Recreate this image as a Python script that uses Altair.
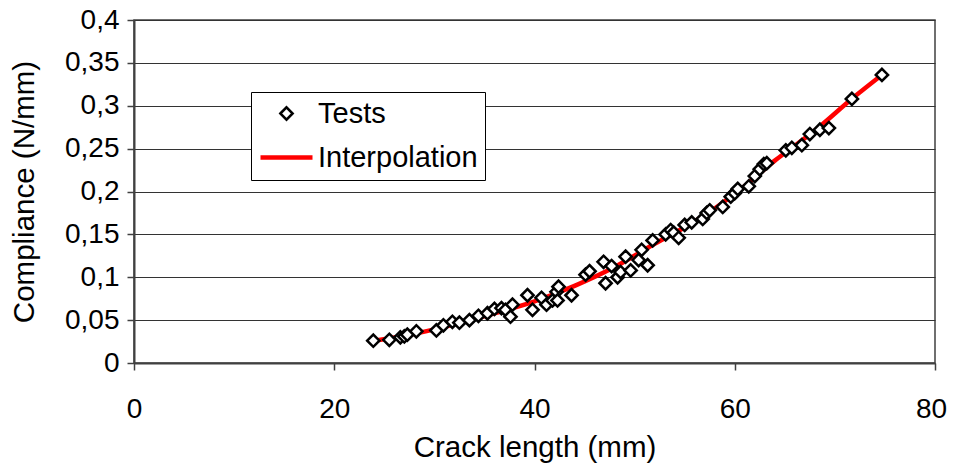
import altair as alt
import pandas as pd

# Test measurements: crack length (mm) and compliance
test_x = [23.9, 25.5, 26.6, 27.0, 27.3, 28.2, 30.2, 30.9, 31.8, 32.5, 33.5, 34.4,
          35.3, 36.0, 36.7, 37.1, 37.6, 37.8, 39.3, 39.8, 40.7, 41.2, 41.8, 42.2,
          42.4, 42.3, 43.7, 45.1, 45.5, 46.9, 47.1, 47.7, 48.3, 48.6, 49.1, 49.6,
          50.4, 50.7, 51.3, 51.8, 53.1, 53.6, 53.9, 54.4, 55.0, 55.7, 56.8, 57.2,
          57.5, 58.8, 59.6, 60.0, 60.3, 61.4, 62.0, 62.5, 62.9, 63.2, 65.1, 65.7,
          66.7, 67.5, 68.5, 69.4, 71.7, 74.7]
test_y = [0.026, 0.027, 0.030, 0.031, 0.033, 0.037, 0.038, 0.044, 0.048, 0.047, 0.050, 0.055,
          0.058, 0.063, 0.064, 0.062, 0.054, 0.068, 0.079, 0.062, 0.076, 0.068, 0.073, 0.083,
          0.089, 0.073, 0.079, 0.103, 0.107, 0.118, 0.093, 0.113, 0.100, 0.106, 0.124, 0.108,
          0.120, 0.132, 0.114, 0.143, 0.150, 0.155, 0.152, 0.146, 0.161, 0.164, 0.168, 0.175,
          0.178, 0.182, 0.194, 0.198, 0.203, 0.206, 0.218, 0.226, 0.232, 0.233, 0.248, 0.251,
          0.254, 0.267, 0.272, 0.274, 0.308, 0.336]

# Interpolation curve
interp_x = [24, 28, 32, 36, 40, 44, 48, 52, 56, 60, 64, 68, 72, 74.7]
interp_y = [0.026, 0.034, 0.045, 0.058, 0.072, 0.090, 0.112, 0.139, 0.165, 0.197, 0.236, 0.271, 0.311, 0.336]

y_ticks = [0, 0.05, 0.1, 0.15, 0.2, 0.25, 0.3, 0.35, 0.4]
x_ticks = [0, 20, 40, 60, 80]
series = ["Tests", "Interpolation"]

tests = pd.DataFrame({"x": test_x, "y": test_y, "series": "Tests"})
interp = pd.DataFrame({"x": interp_x, "y": interp_y, "series": "Interpolation"})

FONT = "Liberation Sans"

xenc = alt.X("x:Q", scale=alt.Scale(domain=[0, 80], nice=False),
             axis=alt.Axis(values=x_ticks, title="Crack length (mm)", grid=False,
                           tickSize=7, labelPadding=25, titlePadding=10,
                           labelFlush=False,
                           labelOffset={"condition": {"test": "datum.value === 80", "value": -4},
                                        "value": 0}))
yenc = alt.Y("y:Q", scale=alt.Scale(domain=[0, 0.4], nice=False),
             axis=alt.Axis(values=y_ticks, title="Compliance (N/mm)", grid=True,
                           tickSize=7, labelPadding=8, titlePadding=25,
                           labelExpr="replace(format(datum.value, '.2~f'), '.', ',')"))

leg = alt.Legend(title=None, orient="none", legendX=117, legendY=72,
                 padding=7, strokeColor="black", fillColor="white",
                 labelFontSize=29, labelFont=FONT, labelColor="black",
                 labelOffset=3, rowPadding=0, symbolFillColor="white",
                 symbolOpacity=1)

color = alt.Color("series:N", scale=alt.Scale(domain=series, range=["black", "red"]),
                  legend=leg)
shape = alt.Shape("series:N", scale=alt.Scale(domain=series, range=["diamond", "stroke"]),
                  legend=leg)
size = alt.Size("series:N", scale=alt.Scale(domain=series, range=[150, 2704]),
                legend=leg)
sw = alt.StrokeWidth("series:N", scale=alt.Scale(domain=series, range=[2.5, 4.5]),
                     legend=leg)

line = alt.Chart(interp).mark_line(strokeWidth=4.5, interpolate="monotone").encode(
    x=xenc, y=yenc, color=color)
pts = alt.Chart(tests).mark_point(fill="white", fillOpacity=1, opacity=1).encode(
    x=xenc, y=yenc, color=color, shape=shape, size=size, strokeWidth=sw)

chart = alt.layer(line, pts).properties(
    width=801, height=343,
    autosize=alt.AutoSizeParams(type="none"),
    padding={"left": 126, "top": 12, "right": 13, "bottom": 104},
).configure_view(
    stroke="#404040", strokeWidth=1.5
).configure_axis(
    labelFont=FONT, titleFont=FONT, labelFontSize=28, titleFontSize=29.5,
    labelColor="black", titleColor="black", titleFontWeight="normal",
    domainColor="#404040", domainWidth=2, tickColor="#404040", tickWidth=1.5,
    gridColor="#333333", gridWidth=1
)

chart.save("out.html", embed_options={"renderer": "svg", "actions": False})
